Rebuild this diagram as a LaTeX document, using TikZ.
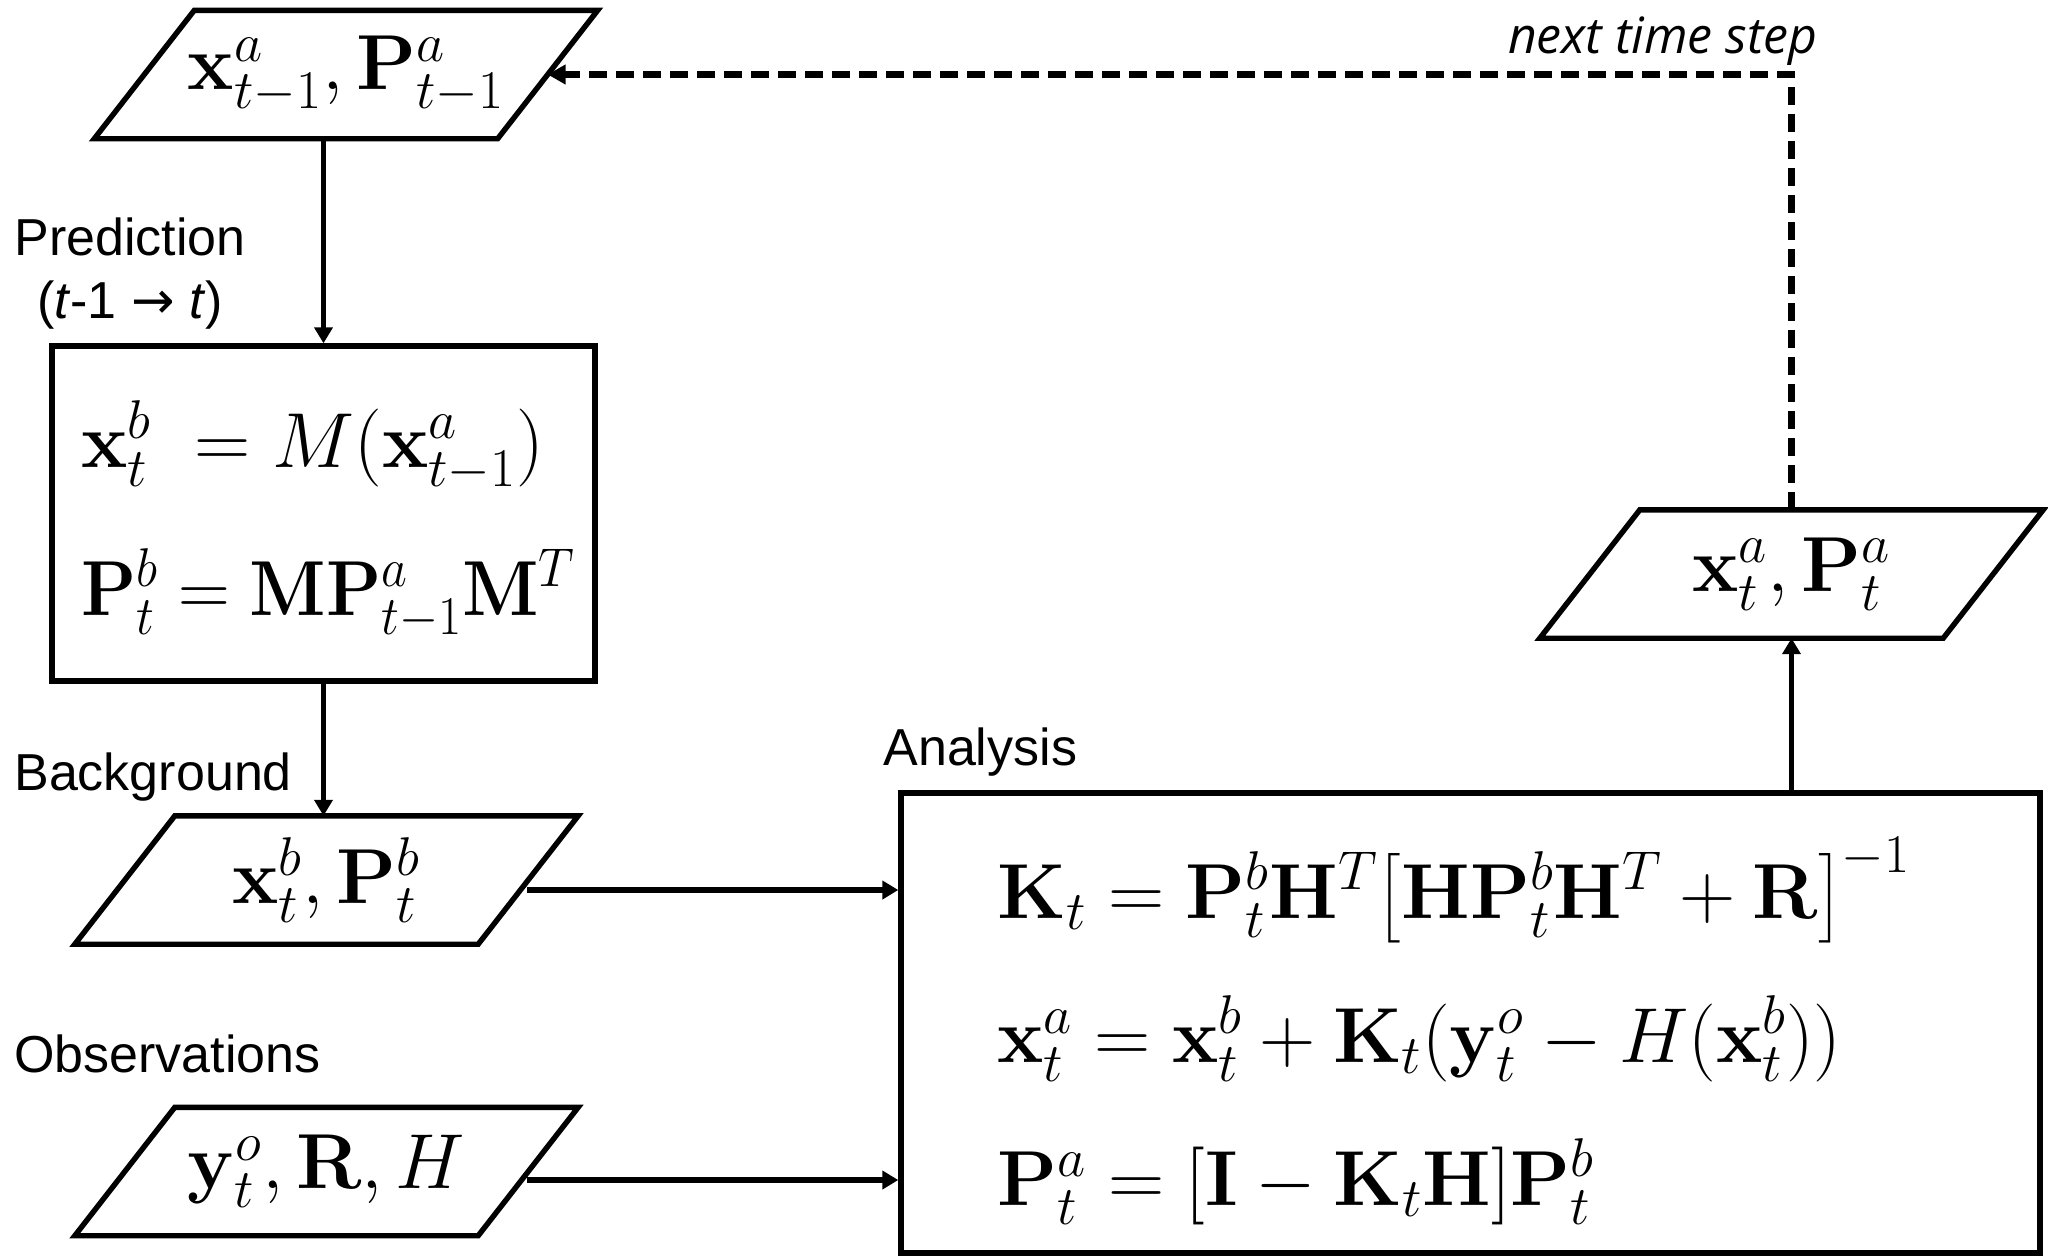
\RequirePackage{fix-cm}
\documentclass[tikz,border=0pt]{standalone}
\usepackage{exscale}
\usepackage[no-math]{fontspec}
\setmainfont{Liberation Sans}
\newfontfamily\notefont{Open Sans}
\newfontfamily\arrowfont{DejaVu Sans}
\usetikzlibrary{arrows.meta}

\newcommand\mathsize{\fontsize{39}{46}\selectfont}
\newcommand\labelsize{\fontsize{26}{31}\selectfont}

\tikzset{
  boxline/.style={draw=black, line width=2.7pt, line join=miter},
  eqbox/.style={boxline, rectangle, inner sep=0pt},
  paranode/.style={rectangle, minimum width=199pt, minimum height=61.5pt,
                   inner sep=0pt, outer sep=1.35pt, font=\mathsize},
  textlabel/.style={anchor=base west, inner sep=0pt, font=\labelsize},
  eq/.style={anchor=base west, inner sep=0pt, font=\mathsize},
  arr/.style={line width=2.8pt, -{Triangle[length=8pt,width=9pt]}},
  dasharr/.style={line width=3.2pt, dash pattern=on 9pt off 4.5pt,
                  -{Triangle[length=9pt,width=9.5pt]}},
}

% slanted outline around a rectangular node
\newcommand\drawpara[1]{%
  \draw[boxline] ([xshift=-25pt]#1.south west) -- ([xshift=-25pt]#1.south east)
    -- ([xshift=25pt]#1.north east) -- ([xshift=25pt]#1.north west) -- cycle;}

\begin{document}
\begin{tikzpicture}[x=0.5pt, y=-0.5pt]
  \useasboundingbox (0,0) rectangle (2048,1259);

  % data nodes (parallelograms)
  \node[paranode] (toppara) at (346,74.5)
    {$\mathbf{x}_{t-1}^{a}, \mathbf{P}_{t-1}^{a}$};
  \node[paranode] (bgpara) at (326.5,880)
    {$\mathbf{x}_{t}^{b}, \mathbf{P}_{t}^{b}$};
  \node[paranode] (obspara) at (326.5,1171.5)
    {$\mathbf{y}_{t}^{o}, \mathbf{R}, H$};
  \node[paranode] (xapara) at (1791.5,574)
    {$\mathbf{x}_{t}^{a}, \mathbf{P}_{t}^{a}$};
  \drawpara{toppara}
  \drawpara{bgpara}
  \drawpara{obspara}
  \drawpara{xapara}

  % process boxes
  \node[eqbox, minimum width=271.5pt, minimum height=167.5pt] (predbox) at (323.5,513.5) {};
  \node[eqbox, minimum width=569.5pt, minimum height=230pt] (analysis) at (1470.5,1023) {};

  % prediction equations
  \node[eq] (eqxb) at (81,467) {$\mathbf{x}_t^b \;= M(\mathbf{x}_{t-1}^a)$};
  \node[eq] (eqpb) at (81,615)
    {\scalebox{0.92}[1]{$\mathbf{P}_t^b = \mathbf{M}\mathbf{P}_{t-1}^a\mathbf{M}^T$}};

  % analysis equations
  \node[eq] (eqk) at (997,918)
    {$\mathbf{K}_t = \mathbf{P}_t^b\mathbf{H}^T\bigl[\mathbf{H}\mathbf{P}_t^b\mathbf{H}^T + \mathbf{R}\bigr]^{-1}$};
  \node[eq] (eqxa) at (997,1062)
    {$\mathbf{x}_t^a = \mathbf{x}_t^b + \mathbf{K}_t(\mathbf{y}_t^o - H(\mathbf{x}_t^b))$};
  \node[eq] (eqpa) at (997,1205)
    {$\mathbf{P}_t^a = [\mathbf{I} - \mathbf{K}_t\mathbf{H}]\mathbf{P}_t^b$};

  % labels
  \node[textlabel, anchor=base] (lpred) at (130,255) {Prediction};
  \node[textlabel, anchor=base] (lpredt) at (130,318) {(\textit{t}-1 {\arrowfont →} \textit{t})};
  \node[textlabel] (lbg) at (14,790) {Background};
  \node[textlabel] (lobs) at (14,1072) {Observations};
  \node[textlabel] (lana) at (883,765) {Analysis};
  \node[anchor=base east, inner sep=0pt, font=\notefont\itshape\fontsize{25}{30}\selectfont]
    (lnext) at (1818,53) {next time step};

  % connectors
  \coordinate (bgout) at (527,890);
  \coordinate (obsout) at (527,1180);
  \draw[arr] (predbox.north |- toppara.south) -- (predbox.north);
  \draw[arr] (predbox.south) -- (predbox.south |- bgpara.north);
  \draw[arr] (bgout) -- (bgout -| analysis.west);
  \draw[arr] (obsout) -- (obsout -| analysis.west);
  \draw[arr] (xapara.south |- analysis.north) -- (xapara.south);
  \draw[dasharr] (xapara.north) |- (toppara.east);
\end{tikzpicture}
\end{document}
